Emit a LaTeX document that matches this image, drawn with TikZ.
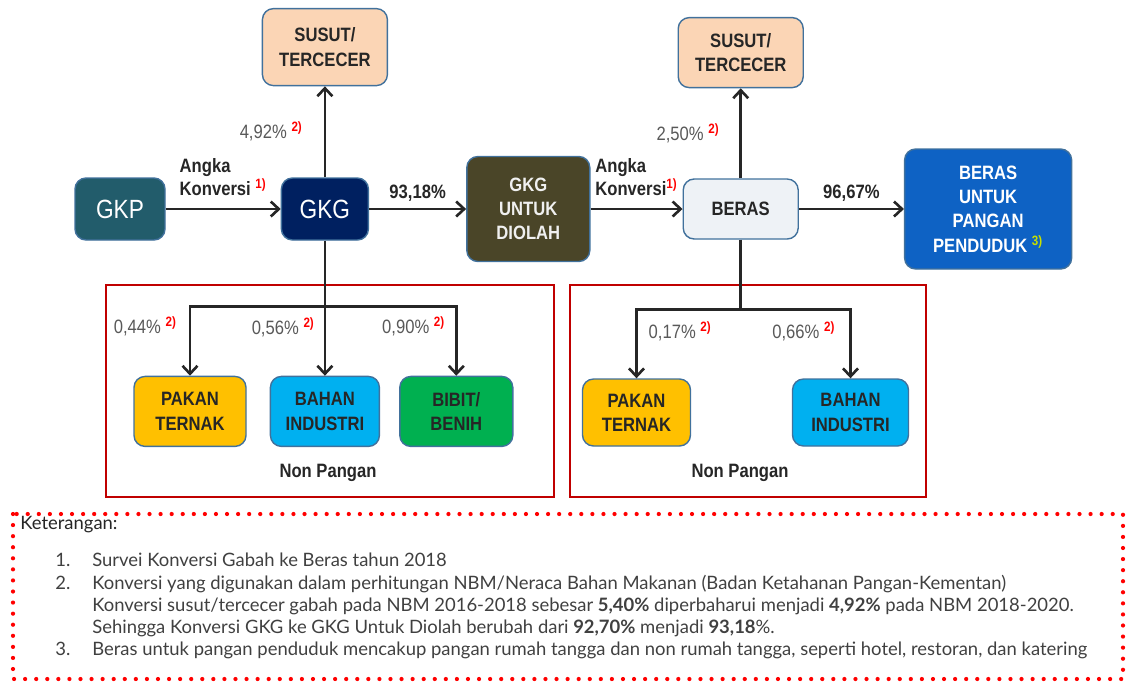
\documentclass[tikz,border=0pt]{standalone}
\usepackage{fontspec}
\setmainfont{Liberation Sans}[FakeStretch=0.86]
\newfontfamily\notefont{Lato}
\usepackage{xcolor}
\usetikzlibrary{positioning,arrows.meta,calc}

\definecolor{gkpteal}{HTML}{225C6B}
\definecolor{gkgnavy}{HTML}{002060}
\definecolor{olahdark}{HTML}{4A4528}
\definecolor{peach}{HTML}{FBD5B5}
\definecolor{berasgray}{HTML}{EEF2F6}
\definecolor{panganblue}{HTML}{0E62C4}
\definecolor{pakanyellow}{HTML}{FFC000}
\definecolor{industriblue}{HTML}{00B0F0}
\definecolor{bibitgreen}{HTML}{00B050}
\definecolor{boxline}{HTML}{41719C}
\definecolor{framered}{HTML}{C00000}
\definecolor{arrowcol}{HTML}{262626}
\definecolor{pctgray}{HTML}{595959}
\definecolor{notegray}{HTML}{404040}
\definecolor{fnred}{HTML}{FF0000}
\definecolor{fnlime}{HTML}{C8E000}

\newcommand{\fnref}[2][fnred]{\textsuperscript{\bfseries\color{#1}#2)}}

\begin{document}
\begin{tikzpicture}[node distance=1cm]
\tikzset{
    box/.style={rectangle, rounded corners=0.22cm, draw=boxline, line width=0.8pt, align=center, text=arrowcol, font=\fontsize{11}{13.8}\selectfont\bfseries},
    darkbox/.style={box, text=white, font=\fontsize{15}{17}\selectfont},
    arrow/.style={-{Straight Barb[length=1.6mm,width=3mm]}, line width=1.5pt, draw=arrowcol},
    plain/.style={line width=1.5pt, draw=arrowcol},
    lbl/.style={text=arrowcol, font=\fontsize{11}{13}\selectfont\bfseries},
    pct/.style={text=pctgray, font=\fontsize{11}{13}\selectfont},
    frame/.style={draw=framered, line width=1pt},
    dotline/.style={draw=red, line width=2.4pt, line cap=round, dash pattern=on 0pt off 6.3pt},
    note/.style={text=notegray, font=\notefont\fontsize{10.5}{12.6}\selectfont, align=left, inner sep=0pt}
}
\useasboundingbox (0,0) rectangle (22.72,-13.64);

% main flow
\node[darkbox, fill=gkpteal, minimum width=1.8cm, minimum height=1.24cm] (gkp) at (2.4,-4.18) {GKP};
\node[darkbox, fill=gkgnavy, minimum width=1.74cm, minimum height=1.24cm, right=2.3cm of gkp] (gkg) {GKG};
\node[box, fill=olahdark, text=gray!12, minimum width=2.46cm, minimum height=2.1cm, right=1.94cm of gkg] (olah) {GKG\\UNTUK\\DIOLAH};
\node[box, fill=berasgray, minimum width=2.3cm, minimum height=1.2cm, right=1.84cm of olah] (beras) {BERAS};
\node[box, fill=panganblue, text=white, minimum width=3.34cm, minimum height=2.4cm, right=2.1cm of beras] (pangan) {BERAS\\UNTUK\\PANGAN\\PENDUDUK \fnref[fnlime]{3}};
\node[box, fill=peach, minimum width=2.5cm, minimum height=1.54cm, above=1.82cm of gkg] (susut1) {SUSUT/\\TERCECER};
\node[box, fill=peach, minimum width=2.5cm, minimum height=1.4cm, above=1.8cm of beras] (susut2) {SUSUT/\\TERCECER};

% non pangan
\node[box, fill=industriblue, minimum width=2.18cm, minimum height=1.4cm, below=2.7cm of gkg] (bahan1) {BAHAN\\INDUSTRI};
\node[box, fill=pakanyellow, minimum width=2.24cm, minimum height=1.4cm, left=0.46cm of bahan1] (pakan1) {PAKAN\\TERNAK};
\node[box, fill=bibitgreen, minimum width=2.26cm, minimum height=1.4cm, right=0.38cm of bahan1] (bibit) {BIBIT/\\BENIH};
\node[box, fill=pakanyellow, minimum width=2.16cm, minimum height=1.34cm] (pakan2) at (12.73,-8.25) {PAKAN\\TERNAK};
\node[box, fill=industriblue, minimum width=2.32cm, minimum height=1.34cm] (bahan2) at (17.01,-8.25) {BAHAN\\INDUSTRI};
\draw[frame] (2.12,-5.7) rectangle (11.08,-9.94);
\draw[frame] (11.4,-5.7) rectangle (18.52,-9.94);
\node[lbl] (np1) at (6.56,-9.46) {Non Pangan};
\node[lbl] (np2) at (14.8,-9.46) {Non Pangan};

\draw[arrow] (gkp) -- node[above=0.13cm, align=left, lbl]{Angka\\Konversi \fnref{1}} (gkg);
\draw[arrow] (gkg) -- node[above, lbl]{93,18\%} (olah);
\draw[arrow] (olah) -- node[above=0.13cm, align=left, lbl]{Angka\\Konversi\fnref{1}} (beras);
\draw[arrow] (beras) -- node[above, lbl]{96,67\%} (pangan);
\draw[arrow] (gkg) -- node[left=0.3cm, pct]{4,92\% \fnref{2}} (susut1);
\draw[arrow] (beras) -- node[left=0.28cm, pct]{2,50\% \fnref{2}} (susut2);

\coordinate (j1) at ($(gkg.south)+(0,-1.32)$);
\draw[arrow] (gkg) -- node[pos=0.64, left=0.06cm, pct]{0,56\% \fnref{2}} (bahan1);
\draw[arrow] (j1) -| node[pos=0.645, left=0.12cm, pct]{0,44\% \fnref{2}} (pakan1);
\draw[arrow] (j1) -| node[pos=0.645, left=0.08cm, pct]{0,90\% \fnref{2}} (bibit);

\coordinate (j2) at ($(beras.south)+(0,-1.4)$);
\draw[plain] (beras) -- (j2);
\draw[arrow] (j2) -| node[pos=0.66, right=0.1cm, pct]{0,17\% \fnref{2}} (pakan2);
\draw[arrow] (j2) -| node[pos=0.66, left=0.16cm, pct]{0,66\% \fnref{2}} (bahan2);

% keterangan
\draw[dotline] (0.26,-10.28) rectangle (22.46,-13.58);
\node[note, text=arrowcol, anchor=west] (ket) at (0.4,-10.5) {Keterangan:};
\node[note, anchor=north west] (items) at (1.1,-11.06) {%
\makebox[0.74cm][l]{1.}Survei Konversi Gabah ke Beras tahun 2018\\
\makebox[0.74cm][l]{2.}Konversi yang digunakan dalam perhitungan NBM/Neraca Bahan Makanan (Badan Ketahanan Pangan-Kementan)\\
\hspace*{0.74cm}Konversi susut/tercecer gabah pada NBM 2016-2018 sebesar \textbf{5,40\%} diperbaharui menjadi \textbf{4,92\%} pada NBM 2018-2020.\\
\hspace*{0.74cm}Sehingga Konversi GKG ke GKG Untuk Diolah berubah dari \textbf{92,70\%} menjadi \textbf{93,18}\%.\\
\makebox[0.74cm][l]{3.}Beras untuk pangan penduduk mencakup pangan rumah tangga dan non rumah tangga, seperti hotel, restoran, dan katering};
\end{tikzpicture}
\end{document}
